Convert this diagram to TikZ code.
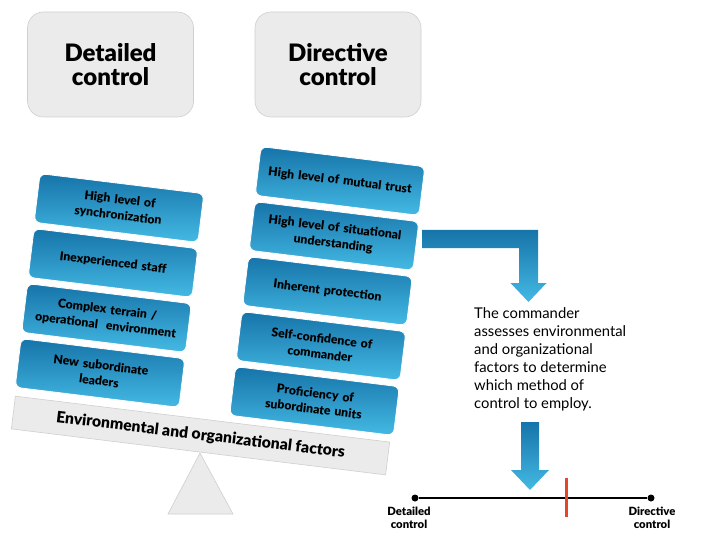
\documentclass[tikz,border=0pt]{standalone}
\usepackage{fontspec}
\setmainfont{Lato}[BoldFont={Lato Black}]
\definecolor{bluetop}{HTML}{1674A9}
\definecolor{bluebot}{HTML}{44B9E4}
\definecolor{boxgray}{HTML}{EBEBEB}
\definecolor{linegray}{HTML}{CFCFCF}
\definecolor{tickred}{HTML}{E5452A}
\begin{document}
\begin{tikzpicture}[x=1pt,y=-1pt,
  headbox/.style={draw=linegray, fill=boxgray, rounded corners=16pt, minimum width=166pt, minimum height=105pt, align=center, font=\bfseries\fontsize{24}{24.5}\selectfont, line width=0.6pt},
  factor/.style={rotate=-7, rounded corners=6pt, top color=bluetop, bottom color=bluebot, draw=white, line width=0.8pt, minimum width=165pt, minimum height=49pt, align=center, font=\bfseries\fontsize{12.2}{15.8}\selectfont, text width=160pt, inner sep=0pt},
  beam/.style={rotate=-7, draw=linegray, fill=boxgray, minimum width=377pt, minimum height=33pt, font=\bfseries\fontsize{15.7}{17}\selectfont, line width=0.6pt},
  bluearrow/.style={top color=bluetop, bottom color=bluebot, draw=none},
  endlabel/.style={font=\bfseries\fontsize{11.3}{12.8}\selectfont, align=center, inner sep=0pt},
  dot/.style={circle, fill=black, inner sep=0pt, minimum size=7pt}
]
\useasboundingbox[fill=white] (0,0) rectangle (720,540);

% top boxes
\node[headbox] (detailed) at (110.5,64.5) {Detailed\\control};
\node[headbox] (directive) at (338,64.5) {Directive\\control};

% beam and fulcrum
\draw[fill=boxgray, draw=linegray, line width=0.6pt] (200,453) -- (233,514) -- (168,514) -- cycle;
\node[beam] (beam) at (200.5,435.5) {Environmental and organizational factors};

% left stack
\node[factor] (l1) at (119,208) {High level of\\synchronization};
\node[factor] (l2) at (113,263) {Inexperienced staff};
\node[factor] (l3) at (106.5,318) {Complex terrain /\\operational\ \ environment};
\node[factor] (l4) at (100,373) {New subordinate\\leaders};

% right stack
\node[factor] (r1) at (340,181) {High level of mutual trust};
\node[factor] (r2) at (334,236) {High level of situational\\understanding};
\node[factor] (r3) at (327.5,291) {Inherent protection};
\node[factor] (r4) at (321,346) {Self-confidence of\\commander};
\node[factor] (r5) at (314.5,401) {Proficiency of\\subordinate units};

% bent arrow
\shade[bluearrow] (422,230) -- (538,230) -- (538,283) -- (546.5,283) -- (528.5,302) -- (510.5,283) -- (519,283) -- (519,248) -- (422,248) -- cycle;

% text
\node[anchor=north west, inner sep=0pt, align=left, font=\fontsize{14.8}{18}\selectfont] (cmd) at (474,307.5)
  {The commander\\assesses environmental\\and organizational\\factors to determine\\which method of\\control to employ.};

% straight arrow
\shade[bluearrow] (521,422) -- (539,422) -- (539,470) -- (549,470) -- (530,490) -- (511,470) -- (521,470) -- cycle;

% scale
\node[dot] (dl) at (415,498) {};
\node[dot] (dr) at (651,498) {};
\draw[line width=2pt] (dl) -- (dr);
\draw[tickred, line width=3pt] (566,478) -- (566,517);
\node[endlabel] (ldet) at (409,517.5) {Detailed\\control};
\node[endlabel] (ldir) at (652,517.5) {Directive\\control};
\end{tikzpicture}
\end{document}
